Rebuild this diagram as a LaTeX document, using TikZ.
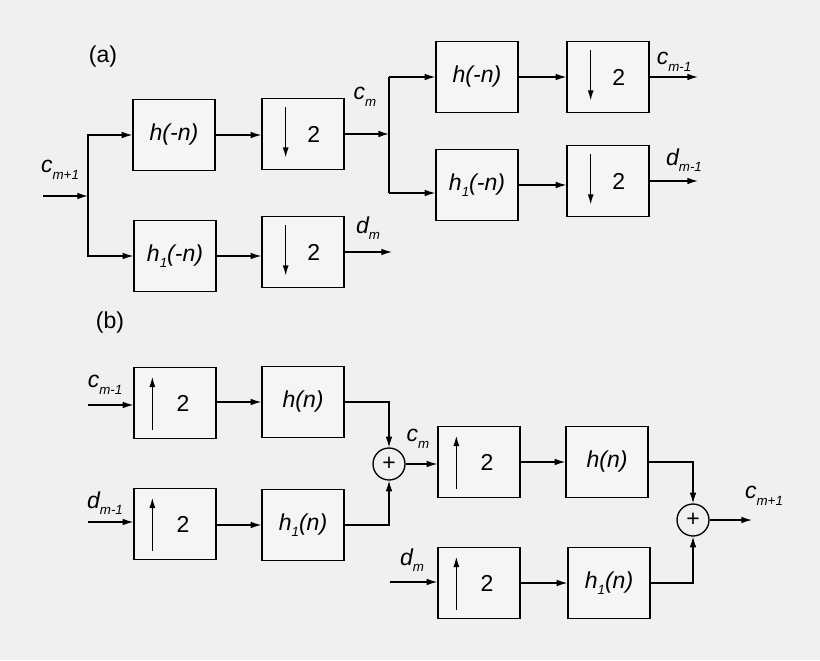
\documentclass[tikz,border=0pt]{standalone}
\usepackage{fontspec}
\setmainfont{Liberation Sans}
\usetikzlibrary{arrows.meta}
\newcommand{\mysb}[1]{\raisebox{-0.55ex}{\normalsize #1}}
\begin{document}
\begin{tikzpicture}[x=0.75pt,y=-0.75pt,
  box/.style={draw,line width=1pt,fill=white!96!black,minimum width=61.5pt,minimum height=53pt,inner sep=0pt,font=\LARGE\itshape},
  ln/.style={line width=1pt},
  ar/.style={line width=1pt,-{Latex[length=8pt,width=5pt]}},
  sm/.style={-{Latex[length=8pt,width=4.5pt]},line width=1.2pt},
  lab/.style={font=\LARGE\itshape,inner sep=0pt},
  add/.style={draw,circle,line width=1pt,minimum size=24pt,inner sep=0pt,font=\LARGE},
  txt/.style={font=\LARGE,inner sep=0pt}]
\fill[white!94!black] (0,0) rectangle (820,660);
\useasboundingbox (0,0) rectangle (820,660);
\newcommand{\dn}[2]{\node[box] (#1) at #2 {}; \draw[sm] ([xshift=-13pt,yshift=20pt]#1.center) -- ([xshift=-13pt,yshift=-18pt]#1.center); \node[txt] at ([xshift=8pt]#1.center) {2};}
\newcommand{\up}[2]{\node[box] (#1) at #2 {}; \draw[sm] ([xshift=-17pt,yshift=-20pt]#1.center) -- ([xshift=-17pt,yshift=20pt]#1.center); \node[txt] at ([xshift=6pt]#1.center) {2};}
\node[txt] at (103,57) {(a)};
\node[txt] at (110,323) {(b)};
% (a)
\node[box] (A1) at (174,135) {h(-n)};
\dn{A2}{(303,134)}
\node[box] (A3) at (175,256) {h\mysb{1}(-n)};
\dn{A4}{(303,252)}
\coordinate (ain) at (43,196);
\coordinate (sp) at (88,196);
\draw[ar] (ain) -- (sp);
\draw[ar] (sp) |- (A1.west);
\draw[ar] (sp) |- (A3.west);
\draw[ar] (A1.east) -- (A2.west|-A1.east);
\draw[ar] (A3.east) -- (A4.west|-A3.east);
\node[lab] at (60,170) {c\mysb{m+1}};
\coordinate (sp2) at (389,134);
\draw[ar] (A2.east) -- (sp2);
\node[lab] at (365,97) {c\mysb{m}};
\coordinate (dmo) at (392,252);
\draw[ar] (A4.east) -- (dmo);
\node[lab] at (368,228) {d\mysb{m}};
\node[box] (B1) at (477,77) {h(-n)};
\dn{B2}{(608,77)}
\node[box] (B3) at (477,185) {h\mysb{1}(-n)};
\dn{B4}{(608,181)}
\draw[ln] (389,77) -- (389,193);
\draw[ar] (389,77) -- (B1.west);
\draw[ar] (389,193) -- (B3.west|-389,193);
\draw[ar] (B1) -- (B2);
\draw[ar] (B3.east) -- (B4.west|-B3.east);
\coordinate (o1) at (698,77);
\coordinate (o2) at (698,181);
\draw[ar] (B2.east) -- (o1);
\draw[ar] (B4.east) -- (o2);
\node[lab] at (674,62) {c\mysb{m-1}};
\node[lab] at (684,160) {d\mysb{m-1}};
% (b)
\up{C1}{(175,403)}
\node[box] (C2) at (303,402) {h(n)};
\up{C3}{(175,524)}
\node[box] (C4) at (303,525) {h\mysb{1}(n)};
\coordinate (ci1) at (88,405);
\coordinate (ci2) at (88,522);
\draw[ar] (ci1) -- (C1.west|-ci1);
\draw[ar] (ci2) -- (C3.west|-ci2);
\node[lab] at (105,385) {c\mysb{m-1}};
\node[lab] at (105,503) {d\mysb{m-1}};
\draw[ar] (C1.east|-C2) -- (C2);
\draw[ar] (C3.east|-C4) -- (C4);
\node[add] (S1) at (389,464) {+};
\draw[ar] (C2.east) -| (S1.north);
\draw[ar] (C4.east) -| (S1.south);
\up{D1}{(479,462)}
\node[box] (D2) at (607,462) {h(n)};
\up{D3}{(479,583)}
\node[box] (D4) at (609,583) {h\mysb{1}(n)};
\draw[ar] (S1.east) -- (D1.west|-S1);
\node[lab] at (418,439) {c\mysb{m}};
\draw[ar] (D1) -- (D2);
\coordinate (di) at (390,582);
\draw[ar] (di) -- (D3.west|-di);
\node[lab] at (412,560) {d\mysb{m}};
\draw[ar] (D3) -- (D4);
\node[add] (S2) at (693,520) {+};
\draw[ar] (D2.east) -| (S2.north);
\draw[ar] (D4.east) -| (S2.south);
\coordinate (co) at (752,520);
\draw[ar] (S2.east) -- (co);
\node[lab] at (764,496) {c\mysb{m+1}};
\end{tikzpicture}
\end{document}
